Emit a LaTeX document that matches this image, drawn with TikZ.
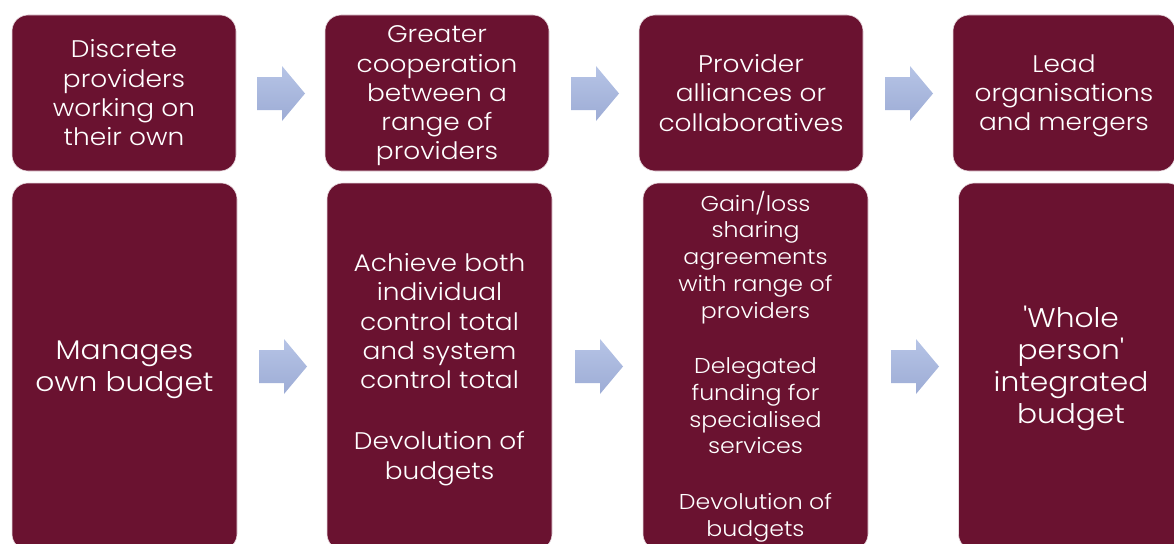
\documentclass[tikz,border=0pt]{standalone}
\usepackage{fontspec}
\setmainfont{Poppins}[UprightFont=* Light, Ligatures=TeXOff, FakeStretch=1.1]
\usetikzlibrary{calc}
\definecolor{boxred}{HTML}{6A1230}
\definecolor{arrtop}{HTML}{B6C4E6}
\definecolor{arrbot}{HTML}{9DACD5}
\tikzset{
  stagebox/.style={fill=boxred, draw=white!85!boxred, line width=0.6pt, rounded corners=16pt,
    inner sep=0pt},
  topbox/.style={stagebox, minimum width=224pt, minimum height=156pt},
  botbox/.style={stagebox, minimum width=225pt, minimum height=367pt},
  boxtext/.style={text=white, align=center, inner sep=0pt,
    font=\fontsize{24}{29.3}\selectfont},
  bigtext/.style={boxtext, font=\fontsize{27}{32}\selectfont},
  smalltext/.style={boxtext, font=\fontsize{21.5}{26.7}\selectfont},
  blockarrow/.style={top color=arrtop, bottom color=arrbot, draw=none}
}
\newcommand{\blockarr}[2]{%
  \shade[blockarrow] (#1,#2) ++(0,-16.5) -- ++(25,0) -- ++(0,-11) -- ++(23,27.5)
    -- ++(-23,27.5) -- ++(0,-11) -- ++(-25,0) -- cycle;}
\begin{document}
\begin{tikzpicture}[x=1pt,y=-1pt]
\useasboundingbox (0,0) rectangle (1174,543);
\clip (0,0) rectangle (1174,543);
% top row boxes
\node[topbox] (t1) at (124,93) {};
\node[topbox] (t2) at (437,93) {};
\node[topbox] (t3) at (751,93) {};
\node[topbox, minimum width=222pt] (t4) at (1064,93) {};
% bottom row boxes
\node[botbox] (b1) at (124.5,366.5) {};
\node[botbox] (b2) at (439.5,366.5) {};
\node[botbox] (b3) at (755.5,366.5) {};
\node[botbox] (b4) at (1071,366.5) {};
% texts
\node[boxtext] (t1t) at (t1.center) {Discrete\\providers\\working on\\their own};
\node[boxtext] (t2t) at ($(t2.center)+(0,3)$) {Greater\\cooperation\\between a\\range of\\providers};
\node[boxtext] (t3t) at (t3.center) {Provider\\alliances or\\collaboratives};
\node[boxtext] (t4t) at ($(t4.center)+(0,3)$) {Lead\\organisations\\and mergers};
\node[bigtext] (b1t) at ($(b1.center)+(0,3)$) {Manages\\own budget};
\node[boxtext] (b2t) at ($(b2.center)+(0,3)$) {Achieve both\\individual\\control total\\and system\\control total\\[32pt]Devolution of\\budgets};
\node[smalltext] (b3t) at (b3.center) {Gain/loss\\sharing\\agreements\\with range of\\providers\\[29pt]Delegated\\funding for\\specialised\\services\\[29pt]Devolution of\\budgets};
\node[bigtext] (b4t) at ($(b4.center)+(0,2)$) {'Whole\\person'\\integrated\\budget};
% arrows
\blockarr{257}{93.5}
\blockarr{571}{93.5}
\blockarr{885}{93.5}
\blockarr{259}{366.5}
\blockarr{575}{366.5}
\blockarr{891}{366.5}
\end{tikzpicture}
\end{document}
